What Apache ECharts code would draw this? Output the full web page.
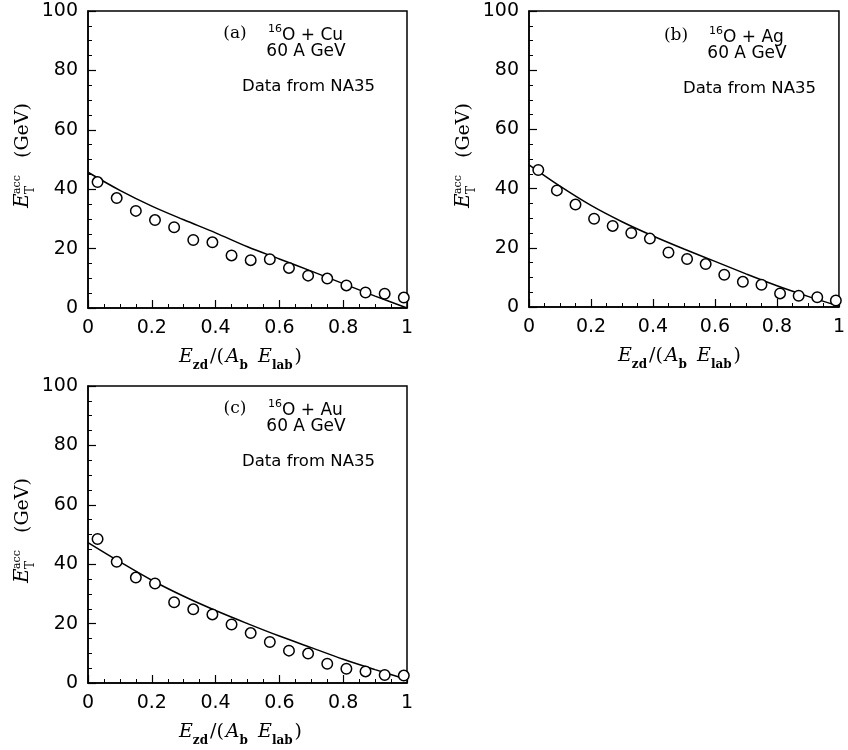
<!DOCTYPE html>
<html>
<head>
<meta charset="utf-8">
<script src="https://cdn.jsdelivr.net/npm/echarts@6/dist/echarts.min.js"></script>
<style>
html,body{margin:0;padding:0;background:#fff;}
#chart{width:848px;height:750px;}
</style>
</head>
<body>
<div id="chart"></div>
<script>
// ---- data ----
var xTicks = [0, 0.2, 0.4, 0.6, 0.8, 1];
var yTicks = [0, 20, 40, 60, 80, 100];
var xData = [0.03, 0.09, 0.15, 0.21, 0.27, 0.33, 0.39, 0.45, 0.51, 0.57, 0.63, 0.69, 0.75, 0.81, 0.87, 0.93, 0.99];
var dataCu = [42.4, 37.0, 32.7, 29.6, 27.2, 22.9, 22.1, 17.7, 16.1, 16.4, 13.5, 10.9, 9.9, 7.6, 5.2, 4.8, 3.5];
var dataAg = [46.3, 39.4, 34.6, 29.8, 27.4, 25.0, 23.1, 18.4, 16.2, 14.5, 10.9, 8.5, 7.5, 4.6, 3.8, 3.3, 2.2];
var dataAu = [48.5, 40.8, 35.5, 33.5, 27.2, 24.8, 23.1, 19.7, 16.8, 13.8, 10.9, 9.9, 6.5, 4.8, 3.9, 2.7, 2.5];
var xCurve = [0, 0.1, 0.2, 0.3, 0.4, 0.5, 0.6, 0.7, 0.8, 0.9, 1.0];
var curveCu = [45.7, 39.6, 34.3, 29.7, 25.3, 20.6, 16.5, 12.4, 8.2, 4.0, 0.0];
var curveAg = [48.0, 40.8, 34.3, 28.8, 24.0, 19.6, 15.4, 11.2, 7.2, 3.6, 0.3];
var curveAu = [47.3, 40.8, 34.6, 29.2, 24.4, 20.0, 15.8, 11.9, 8.0, 4.5, 1.2];
var panelTags = ['(a)', '(b)', '(c)'];
var panelTargets = ['Cu', 'Ag', 'Au'];
var energyText = '60 A GeV';
var sourceText = 'Data from NA35';

// ---- layout ----
var grids = [
  {left: 88, top: 11, width: 319, height: 297},
  {left: 529, top: 11, width: 315, height: 296},
  {left: 88, top: 386, width: 319, height: 297}
];
var points = [dataCu, dataAg, dataAu];
var curves = [curveCu, curveAg, curveAu];

function pairs(xs, ys) { return xs.map(function (x, i) { return [x, ys[i]]; }); }

var sans = 'DejaVu Sans';
var serif = 'DejaVu Serif';

function xAxisOpt(i) {
  return {
    type: 'value', gridIndex: i, min: xTicks[0], max: xTicks[xTicks.length - 1], interval: 0.2,
    axisLine: {show: true, onZero: false, lineStyle: {color: '#000', width: 1.5}},
    axisTick: {show: true, inside: true, length: 8, lineStyle: {color: '#000', width: 1.2}},
    minorTick: {show: true, splitNumber: 4, length: 4, lineStyle: {color: '#000', width: 1}},
    splitLine: {show: false},
    axisLabel: {color: '#000', fontFamily: sans, fontSize: 19, margin: 11,
      formatter: function (v) { return String(Math.round(v * 10) / 10); }}
  };
}
function yAxisOpt(i) {
  return {
    type: 'value', gridIndex: i, min: yTicks[0], max: yTicks[yTicks.length - 1], interval: 20,
    axisLine: {show: true, onZero: false, lineStyle: {color: '#000', width: 1.5}},
    axisTick: {show: true, inside: true, length: 8, lineStyle: {color: '#000', width: 1.2}},
    minorTick: {show: true, splitNumber: 4, length: 4, lineStyle: {color: '#000', width: 1}},
    splitLine: {show: false},
    axisLabel: {color: '#000', fontFamily: sans, fontSize: 19, margin: 10}
  };
}

var series = [];
for (var i = 0; i < 3; i++) {
  series.push({
    type: 'line', xAxisIndex: i, yAxisIndex: i, data: pairs(xCurve, curves[i]),
    smooth: 0.35, showSymbol: false, symbol: 'none', silent: true,
    lineStyle: {color: '#000', width: 1.5}, z: 2
  });
  series.push({
    type: 'scatter', xAxisIndex: i, yAxisIndex: i, data: pairs(xData, points[i]),
    symbol: 'circle', symbolSize: 10.5, silent: true,
    itemStyle: {color: '#fff', borderColor: '#000', borderWidth: 1.5, opacity: 1}, z: 3
  });
}

var graphic = [];
var xTitleRich = {
  i: {fontFamily: serif, fontStyle: 'italic', fontSize: 19, lineHeight: 20, padding: [0, 0, 5, 0], verticalAlign: 'bottom', fill: '#000'},
  n: {fontFamily: serif, fontSize: 19, lineHeight: 20, padding: [0, 2, 5, 1], verticalAlign: 'bottom', fill: '#000'},
  s: {fontFamily: serif, fontWeight: 'bold', fontSize: 12, lineHeight: 12, verticalAlign: 'bottom', padding: [0, 1, 0, 0], fill: '#000'}
};
var annRich = {
  t: {fontFamily: sans, fontSize: 17, lineHeight: 20, verticalAlign: 'bottom', fill: '#000'},
  u: {fontFamily: sans, fontSize: 11, lineHeight: 11, verticalAlign: 'top', fill: '#000'}
};
for (var k = 0; k < 3; k++) {
  var g = grids[k];
  var cx = g.left + g.width / 2 - 6;
  var by = g.top + g.height;
  // x axis title
  graphic.push({
    type: 'text', x: cx, y: by + 54,
    style: {
      text: '{i|E}{s|zd}{n|/(}{i|A}{s|b}{n| }{i|E}{s|lab}{n|)}',
      rich: xTitleRich, align: 'center', verticalAlign: 'middle'
    }
  });
  // y axis title (rotated group)
  graphic.push({
    type: 'group', x: g.left - 55, y: g.top + 197, rotation: Math.PI / 2,
    children: [
      {type: 'text', x: 0, y: 0, style: {text: 'E', fontFamily: serif, fontStyle: 'italic', fontSize: 20, fill: '#000', verticalAlign: 'bottom', align: 'left'}},
      {type: 'text', x: 14, y: 4, style: {text: 'T', fontFamily: serif, fontSize: 12, fill: '#000', verticalAlign: 'bottom', align: 'left'}},
      {type: 'text', x: 14, y: -10, style: {text: 'acc', fontFamily: serif, fontSize: 11, fill: '#000', verticalAlign: 'bottom', align: 'left'}},
      {type: 'text', x: 50, y: 0, style: {text: '(GeV)', fontFamily: serif, fontSize: 19, fill: '#000', verticalAlign: 'bottom', align: 'left'}}
    ]
  });
  // annotations
  var dy = (k === 1) ? 2 : 0;
  graphic.push({
    type: 'text', x: g.left + 147, y: g.top + 23 + dy,
    style: {text: panelTags[k], fontFamily: serif, fontSize: 17, fill: '#000', align: 'center', verticalAlign: 'middle'}
  });
  graphic.push({
    type: 'text', x: g.left + 180, y: g.top + 23 + dy,
    style: {text: '{u|16}{t|O + ' + panelTargets[k] + '}', rich: annRich, align: 'left', verticalAlign: 'middle'}
  });
  graphic.push({
    type: 'text', x: g.left + 218, y: g.top + 41 + dy,
    style: {text: energyText, fontFamily: sans, fontSize: 17, fill: '#000', align: 'center', verticalAlign: 'middle'}
  });
  graphic.push({
    type: 'text', x: g.left + 154, y: g.top + 76 + dy,
    style: {text: sourceText, fontFamily: sans, fontSize: 16.5, fill: '#000', align: 'left', verticalAlign: 'middle'}
  });
}

var option = {
  backgroundColor: '#fff',
  animation: false,
  grid: grids.map(function (g) {
    return {left: g.left, top: g.top, width: g.width, height: g.height, show: true, borderColor: '#000', borderWidth: 1.5, backgroundColor: 'transparent', containLabel: false};
  }),
  xAxis: [xAxisOpt(0), xAxisOpt(1), xAxisOpt(2)],
  yAxis: [yAxisOpt(0), yAxisOpt(1), yAxisOpt(2)],
  series: series,
  graphic: graphic
};
var chart = echarts.init(document.getElementById('chart'), null, {renderer: 'canvas'});
chart.setOption(option);
</script>
</body>
</html>
